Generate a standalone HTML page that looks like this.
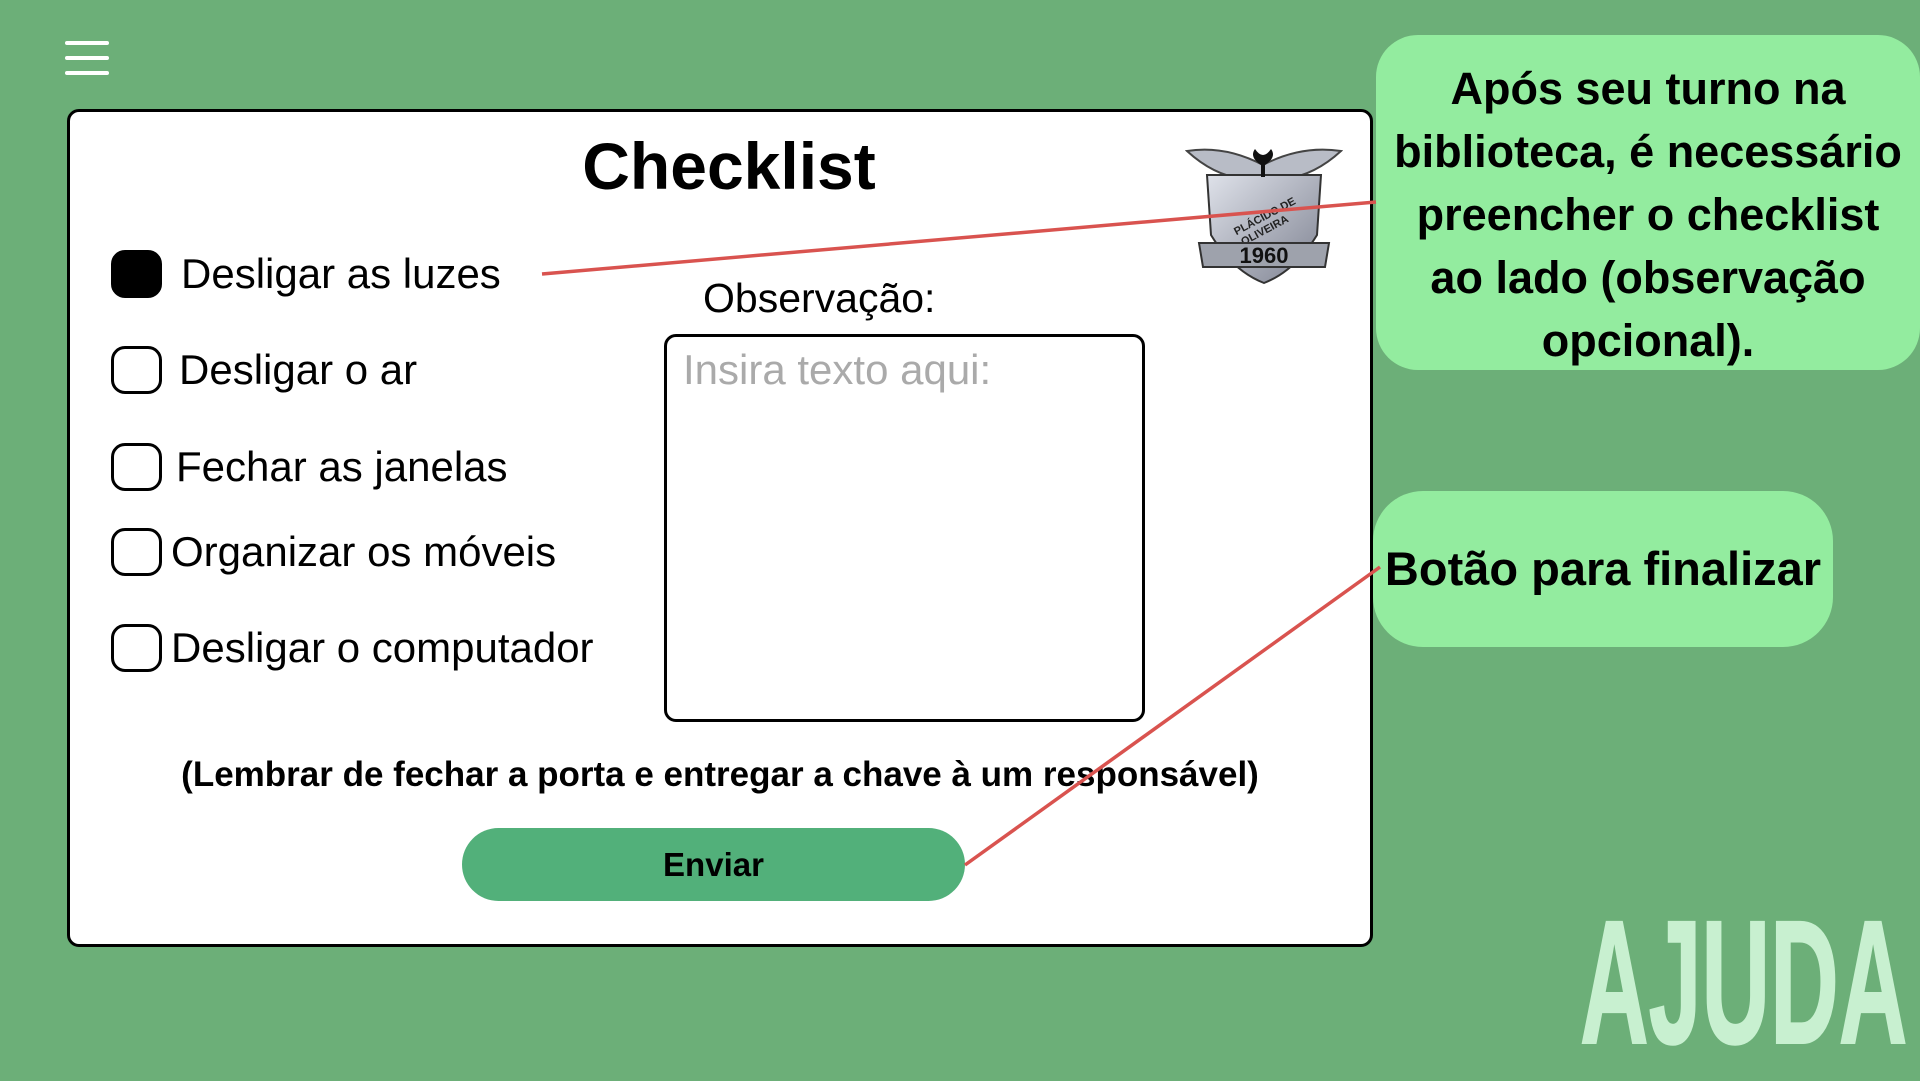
<!DOCTYPE html>
<html><head><meta charset="utf-8"><style>
*{margin:0;padding:0;box-sizing:border-box}
body{width:1920px;height:1080px;background:#6caf78;position:relative;overflow:hidden;font-family:"Liberation Sans",sans-serif;color:#000}
.abs{position:absolute}
.ham{left:65px;width:44px;height:4px;background:#fff;border-radius:2px}
.card{left:67px;top:109px;width:1306px;height:838px;background:#fff;border:3px solid #000;border-radius:12px}
.cb{left:111px;width:51px;height:48px;border:3px solid #000;border-radius:14px;background:#fff}
.it{font-size:42px;white-space:nowrap;line-height:48px}
.callout{background:#93ec9f;border-radius:42px;font-weight:bold;text-align:center;white-space:nowrap}
</style></head><body>
<div class="abs ham" style="top:41px"></div>
<div class="abs ham" style="top:56px"></div>
<div class="abs ham" style="top:71px"></div>

<div class="abs card"></div>
<div class="abs" style="left:529px;top:126px;width:400px;text-align:center;font-size:66px;font-weight:bold;line-height:80px">Checklist</div>

<div class="abs cb" style="top:250px;background:#000"></div>
<div class="abs it" style="left:181px;top:250px">Desligar as luzes</div>
<div class="abs cb" style="top:346px"></div>
<div class="abs it" style="left:179px;top:346px">Desligar o ar</div>
<div class="abs cb" style="top:443px"></div>
<div class="abs it" style="left:176px;top:443px">Fechar as janelas</div>
<div class="abs cb" style="top:528px"></div>
<div class="abs it" style="left:171px;top:528px">Organizar os móveis</div>
<div class="abs cb" style="top:624px"></div>
<div class="abs it" style="left:171px;top:624px">Desligar o computador</div>

<div class="abs it" style="left:703px;top:274px;font-size:41px">Observação:</div>
<div class="abs" style="left:664px;top:334px;width:481px;height:388px;border:3px solid #000;border-radius:12px"></div>
<div class="abs it" style="left:683px;top:346px;color:#aaa">Insira texto aqui:</div>

<svg class="abs" style="left:1185px;top:145px" width="158" height="140" viewBox="0 0 158 140">
<defs><linearGradient id="g" x1="0" y1="0" x2="1" y2="1"><stop offset="0" stop-color="#dfe2ea"/><stop offset="1" stop-color="#7d8190"/></linearGradient></defs>
<path d="M2 6 Q40 0 78 20 Q116 0 156 6 Q130 30 100 34 L58 34 Q28 30 2 6Z" fill="#b8bcc6" stroke="#444" stroke-width="2"/>
<path d="M22 30 L136 30 L132 90 Q110 126 79 138 Q48 126 26 90Z" fill="url(#g)" stroke="#333" stroke-width="2"/>
<path d="M70 4 Q78 16 86 4 Q92 12 80 20 L80 32 L76 32 L76 20 Q64 12 70 4Z" fill="#111"/>
<text x="79" y="75" text-anchor="middle" font-family="Liberation Sans" font-weight="bold" font-size="11" fill="#222" transform="rotate(-28 79 70)">PLÁCIDO DE</text>
<text x="79" y="89" text-anchor="middle" font-family="Liberation Sans" font-weight="bold" font-size="11" fill="#222" transform="rotate(-28 79 84)">OLIVEIRA</text>
<path d="M14 98 L144 98 L140 122 L18 122Z" fill="#9ea2ac" stroke="#333" stroke-width="2"/>
<text x="79" y="118" text-anchor="middle" font-family="Liberation Sans" font-weight="bold" font-size="22" fill="#111">1960</text>
</svg>

<div class="abs" style="left:120px;top:755px;width:1200px;text-align:center;font-size:35px;font-weight:bold;white-space:nowrap">(Lembrar de fechar a porta e entregar a chave à um responsável)</div>
<div class="abs" style="left:462px;top:828px;width:503px;height:73px;background:#52b07a;border-radius:37px;text-align:center;font-size:33px;font-weight:bold;line-height:73px">Enviar</div>

<div class="abs callout" style="left:1376px;top:35px;width:544px;height:335px;font-size:45px;line-height:63px;padding-top:22px">Após seu turno na<br>biblioteca, é necessário<br>preencher o checklist<br>ao lado (observação<br>opcional).</div>
<div class="abs callout" style="left:1373px;top:491px;width:460px;height:156px;font-size:47px;line-height:156px;border-radius:50px">Botão para finalizar</div>

<svg class="abs" style="left:0;top:0" width="1920" height="1080">
<line x1="542" y1="274" x2="1376" y2="202" stroke="#d9534f" stroke-width="3.5"/>
<line x1="965" y1="865" x2="1380" y2="567" stroke="#d9534f" stroke-width="3.5"/>
</svg>

<div class="abs" style="left:1580px;top:895px;font-size:176px;font-weight:bold;color:#c8f0d0;line-height:176px;transform:scaleX(0.54);transform-origin:left top;-webkit-text-stroke:2px #c8f0d0">AJUDA</div>
</body></html>
